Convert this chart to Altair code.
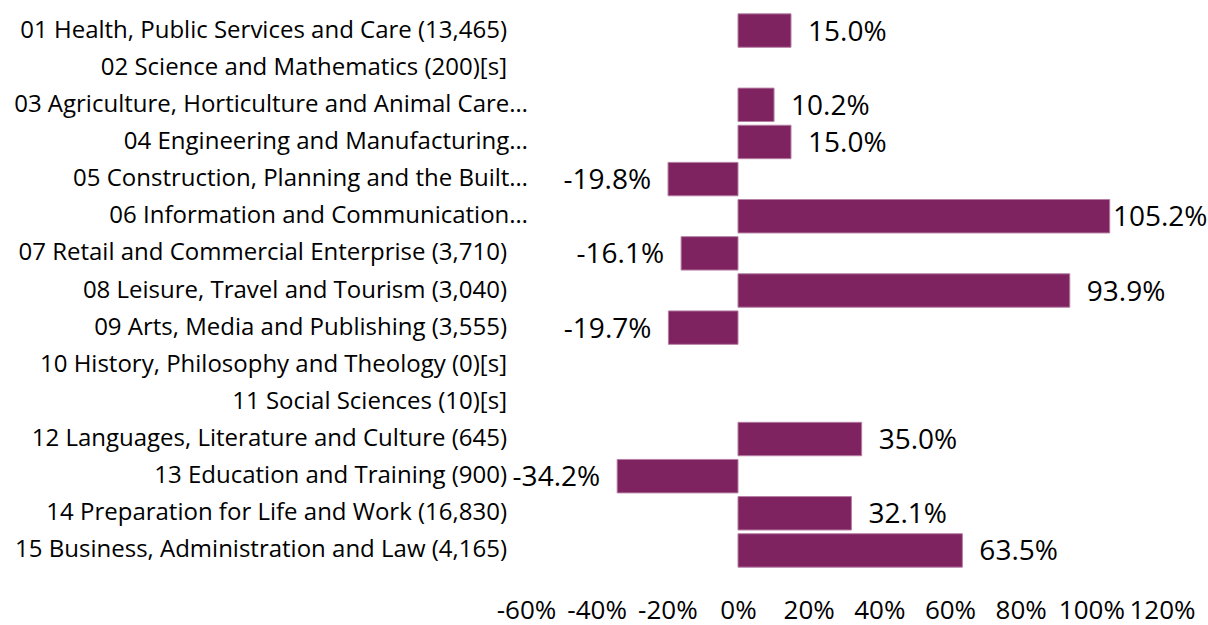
import altair as alt
import pandas as pd

categories = [
    "01 Health, Public Services and Care (13,465)",
    "02 Science and Mathematics (200)[s]",
    "03 Agriculture, Horticulture and Animal Care…",
    "04 Engineering and Manufacturing…",
    "05 Construction, Planning and the Built…",
    "06 Information and Communication…",
    "07 Retail and Commercial Enterprise (3,710)",
    "08 Leisure, Travel and Tourism (3,040)",
    "09 Arts, Media and Publishing (3,555)",
    "10 History, Philosophy and Theology (0)[s]",
    "11 Social Sciences (10)[s]",
    "12 Languages, Literature and Culture (645)",
    "13 Education and Training (900)",
    "14 Preparation for Life and Work (16,830)",
    "15 Business, Administration and Law (4,165)",
]
values = [15.0, None, 10.2, 15.0, -19.8, 105.2, -16.1, 93.9, -19.7, None, None, 35.0, -34.2, 32.1, 63.5]
x_ticks = [-60, -40, -20, 0, 20, 40, 60, 80, 100, 120]

df = pd.DataFrame({"category": categories, "value": values})

FONT = "Open Sans"
BAR = "#7E2260"

y_enc = alt.Y("category:N", sort=categories, axis=None,
              scale=alt.Scale(paddingInner=0.1, paddingOuter=0.05))

base = alt.Chart(df).transform_calculate(
    label="(datum.value < 0 ? '-' : '') + format(abs(datum.value), '.1f') + '%'",
    lx="min(datum.value, 101.3)",
)

bars = base.mark_bar(color=BAR, stroke="#b57ea3", strokeWidth=1).encode(
    x=alt.X("value:Q", scale=alt.Scale(domain=[-60, 120], nice=False, zero=False),
            axis=alt.Axis(values=x_ticks, labelExpr="datum.value + '%'", title=None,
                          grid=False, domain=False, ticks=False, labelPadding=28,
                          labelFontSize=26, labelFont=FONT, labelColor="#000",
                          labelFlush=False, labelOverlap=False)),
    y=y_enc,
)

pos_labels = base.transform_filter("datum.value != null && datum.value > 0").mark_text(
    align="left", baseline="middle", dx=17, dy=2, fontSize=28, font=FONT, color="#000"
).encode(x=alt.X("lx:Q"), y=y_enc, text="label:N")

neg_labels = base.transform_filter("datum.value != null && datum.value < 0").mark_text(
    align="right", baseline="middle", dx=-17, dy=2, fontSize=28, font=FONT, color="#000"
).encode(x=alt.X("value:Q"), y=y_enc, text="label:N")

cat_full = base.transform_filter("indexof(datum.category, '…') < 0").mark_text(
    align="right", baseline="middle", fontSize=24, font=FONT, color="#000"
).encode(x=alt.value(-19), y=y_enc, text="category:N")

cat_trunc = base.transform_filter("indexof(datum.category, '…') >= 0").mark_text(
    align="right", baseline="middle", fontSize=24, font=FONT, color="#000"
).encode(x=alt.value(2), y=y_enc, text="category:N")

chart = alt.layer(bars, pos_labels, neg_labels, cat_full, cat_trunc).properties(
    width=636, height=557,
    background="white",
    autosize=alt.AutoSizeParams(type="none"),
    padding={"left": 526, "top": 12, "right": 46, "bottom": 56},
).configure_view(strokeWidth=0, stroke=None)

chart.save("out.html", embed_options={"renderer": "svg", "actions": False})
